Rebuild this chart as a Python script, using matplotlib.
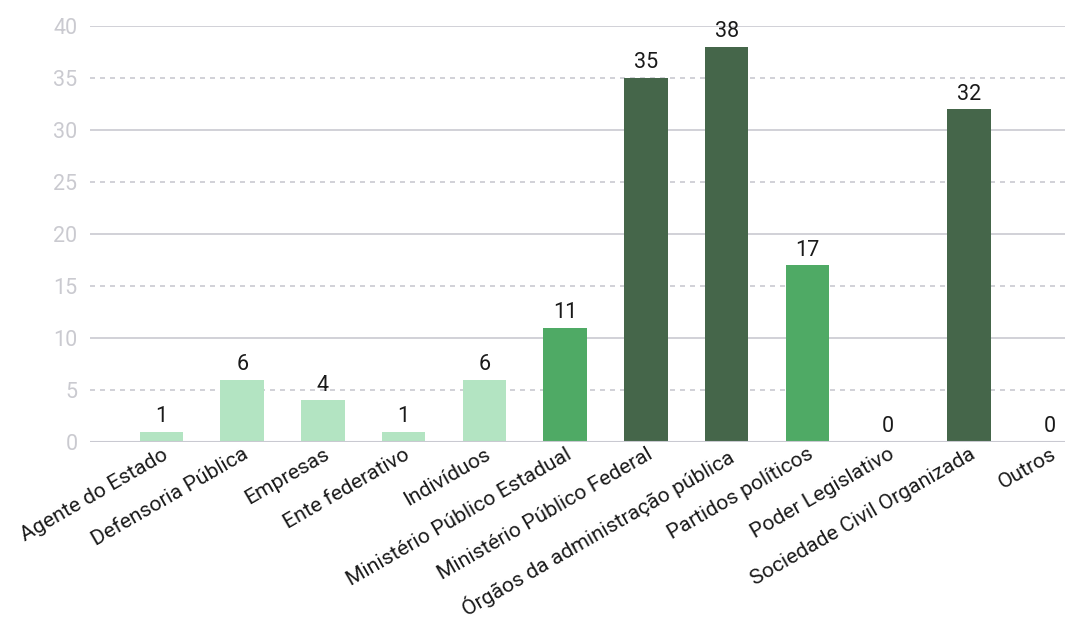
import matplotlib
matplotlib.use("Agg")
import matplotlib.pyplot as plt

categories = [
    "Agente do Estado", "Defensoria Pública", "Empresas", "Ente federativo",
    "Indivíduos", "Ministério Público Estadual", "Ministério Público Federal",
    "Órgãos da administração pública", "Partidos políticos", "Poder Legislativo",
    "Sociedade Civil Organizada", "Outros",
]
counts = [1, 6, 4, 1, 6, 11, 35, 38, 17, 0, 32, 0]
# shade tier per category: 0 = light, 1 = medium, 2 = dark
tiers = [0, 0, 0, 0, 0, 1, 2, 2, 1, 2, 2, 2]
yticks = [0, 5, 10, 15, 20, 25, 30, 35, 40]

palette = ["#b3e4c2", "#4faa65", "#45664a"]
grid_col = "#c9c9d1"
tick_col = "#cacad0"

plt.rcParams["font.family"] = ["Roboto", "DejaVu Sans"]

fig = plt.figure(figsize=(10.65, 6.25), dpi=100)
ax = fig.add_axes([90 / 1065, 1 - 442 / 625, 975 / 1065, 416 / 625])

x = range(len(categories))
bars = ax.bar(x, counts, width=0.54, color=[palette[t] for t in tiers], zorder=3)

for b, v in zip(bars, counts):
    ax.text(b.get_x() + b.get_width() / 2, v + 0.45, str(v),
            ha="center", va="bottom", fontsize=15.5, color="#1a1a1a",
            zorder=4)

for t in yticks:
    if t == 0:
        continue
    ls = (0, (3, 3)) if t % 10 else "-"
    ax.axhline(t, color=grid_col, lw=1.2, ls=ls, zorder=1)
ax.axhline(0, color=grid_col, lw=1.5, zorder=4)

ax.set_xlim(-0.885, 11.19)
ax.set_ylim(0, 40)
ax.set_yticks(yticks)
ax.set_yticklabels([str(t) for t in yticks], color=tick_col, fontsize=15.5)
ax.tick_params(axis="y", length=0, pad=9)
ax.tick_params(axis="x", length=0, pad=2)
ax.set_xticks(list(x))
ax.set_xticklabels(categories, rotation=30, ha="right", va="top",
                   rotation_mode="anchor", fontsize=15.2, color="#1a1a1a")
for s in ax.spines.values():
    s.set_visible(False)

fig.savefig("out.png", dpi=100)
